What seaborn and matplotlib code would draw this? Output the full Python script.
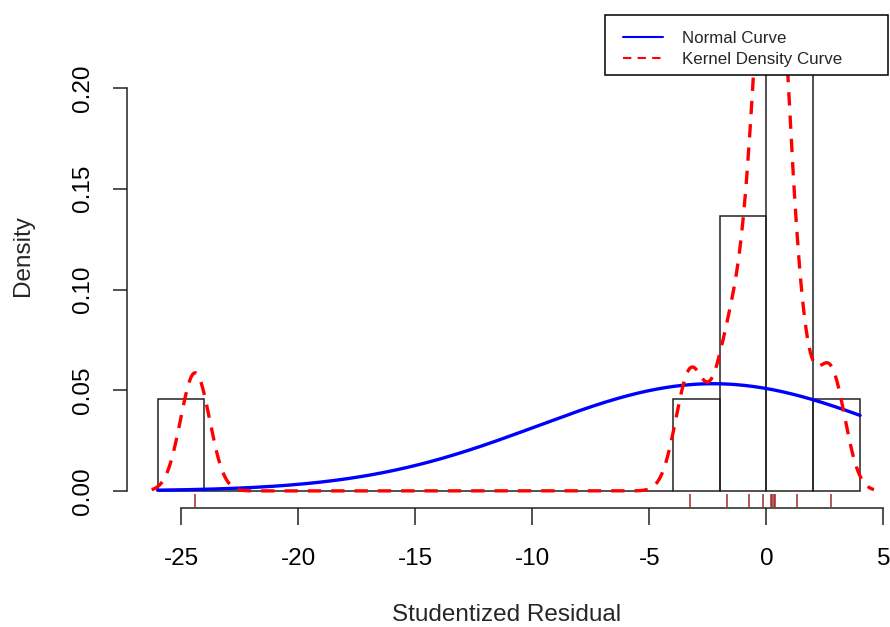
import numpy as np
import pandas as pd
import matplotlib
matplotlib.use("Agg")
import matplotlib.pyplot as plt
from matplotlib.lines import Line2D
from matplotlib.patches import Rectangle
import seaborn as sns

residuals = [-24.4, -3.25, -1.69, -0.75, -0.13, 0.21, 0.26, 0.32, 0.37, 1.29, 2.74]
x_ticks = [-25, -20, -15, -10, -5, 0, 5]
y_ticks = [0.00, 0.05, 0.10, 0.15, 0.20]
y_tick_labels = ["0.00", "0.05", "0.10", "0.15", "0.20"]
legend_labels = ["Normal Curve", "Kernel Density Curve"]

sns.set_theme(style="white")
plt.rcParams["font.family"] = ["Liberation Sans", "DejaVu Sans"]

W, H = 890, 627
data = np.array(residuals)
fig = plt.figure(figsize=(W / 100, H / 100), dpi=100)
ax = fig.add_axes([127.5 / W, (H - 507) / H, 1 - 127.5 / W, (507 - 72) / H])

# histogram
sns.histplot(x=data, binwidth=2, binrange=(-26, 4), stat="density", fill=False,
             color="#222222", linewidth=1.1, ax=ax, element="bars")

# normal curve
mu, sd = data.mean(), data.std(ddof=1)
grid = np.linspace(-26, 4, 300)
dens = np.exp(-0.5 * ((grid - mu) / sd) ** 2) / (sd * np.sqrt(2 * np.pi))
sns.lineplot(x=grid, y=dens, color="#0000FF", linewidth=2.4, ax=ax)

# kernel density (R bw.nrd0 with slight adjust)
q1, q3 = np.percentile(data, [25, 75])
bw = 0.95 * 0.9 * min(sd, (q3 - q1) / 1.34) * len(data) ** (-0.2)
sns.kdeplot(x=data, bw_method=bw / sd, cut=3, gridsize=512, color="#FF0000",
            linewidth=2.4, linestyle=(0, (4, 3)), ax=ax)

# rug
sns.rugplot(x=data, height=0.03, color="#A52A2A", linewidth=1.1, ax=ax)

for s in ["top", "right"]:
    ax.spines[s].set_visible(False)
ax.spines["bottom"].set_position(("outward", 1))
ax.spines["left"].set_bounds(0, 0.2)
ax.spines["bottom"].set_bounds(-25, 5)
for s in ["left", "bottom"]:
    ax.spines[s].set_color("#222222")
    ax.spines[s].set_linewidth(1.1)

ax.set_xlim(-27.285, 5.278)
ax.set_ylim(-0.008, 0.208)
ax.set_xticks(x_ticks)
ax.set_xticklabels([str(t) for t in x_ticks])
ax.set_yticks(y_ticks)
ax.set_yticklabels(y_tick_labels, rotation=90, va="center")
ax.tick_params(axis="x", direction="out", length=12, width=1.1, color="#222222",
               bottom=True, pad=16.5, labelcolor="black", labelsize=17.5)
ax.tick_params(axis="y", direction="out", length=10, width=1.1, color="#222222",
               left=True, pad=14, labelcolor="black", labelsize=17.5)

ax.set_xlabel("Studentized Residual", fontsize=17.5)
ax.set_ylabel("Density", fontsize=17.5)
ax.xaxis.label.set_verticalalignment("center")
ax.yaxis.label.set_verticalalignment("center")
ax.xaxis.set_label_coords((507 - 127.5) / (W - 127.5), -(615 - 507) / 435)
ax.yaxis.set_label_coords(-(127.5 - 23) / (W - 127.5), (507 - 256) / 435)

# legend: white framed box in figure coords, frameless legend inside
box = Rectangle((605 / W, 1 - 75 / H), (888 - 605) / W, 60 / H, transform=fig.transFigure,
                facecolor="white", edgecolor="black", linewidth=1.1, zorder=5)
fig.patches.append(box)
handles = [Line2D([], [], color="#0000FF", linewidth=1.5),
           Line2D([], [], color="#FF0000", linewidth=1.5, linestyle=(0, (4, 3)))]
leg = fig.legend(handles, legend_labels, loc="upper left",
                 bbox_to_anchor=(623 / W, 1 - 31 / H), fontsize=12.2,
                 frameon=False, borderpad=0, handlelength=2.35, handletextpad=1.15,
                 labelspacing=0.36, borderaxespad=0)
leg.set_zorder(6)

fig.savefig("out.png", dpi=100)
